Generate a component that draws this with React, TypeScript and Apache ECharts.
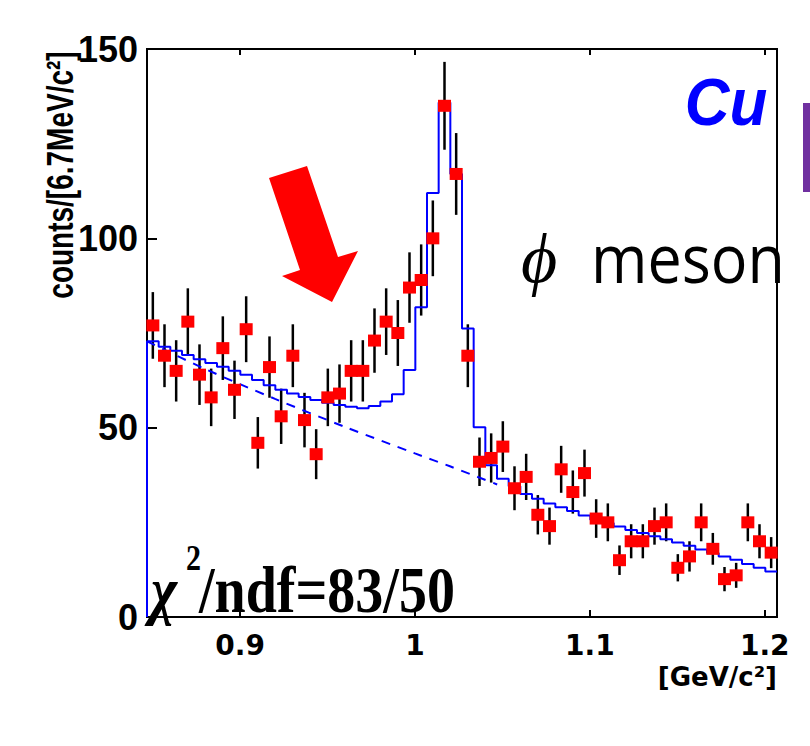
import React, { useEffect, useRef } from 'react';
import * as echarts from 'echarts';

// ---- data ----
const binLow = 0.8468; // GeV/c^2, low edge of first bin
const binWidth = 0.00667; // 6.7 MeV/c^2
const counts = [77, 69, 65, 78, 64, 58, 71, 60, 76, 46, 66, 53, 69, 52, 43, 58, 59, 65, 65, 73, 78, 75, 87, 89, 100, 135, 117, 69, 41, 42, 45, 34, 37, 27, 24, 39, 33, 38, 26, 25, 15, 20, 20, 24, 25, 13, 16, 25, 18, 10, 11, 25, 20, 17];
const countErrors = [8.8, 8.3, 8.1, 8.8, 8.0, 7.6, 8.4, 7.7, 8.7, 6.8, 8.1, 7.3, 8.3, 7.2, 6.6, 7.6, 7.7, 8.1, 8.1, 8.5, 8.8, 8.7, 9.3, 9.4, 10.0, 11.6, 10.8, 8.3, 6.4, 6.5, 6.7, 5.8, 6.1, 5.2, 4.9, 6.2, 5.7, 6.2, 5.1, 5.0, 3.9, 4.5, 4.5, 4.9, 5.0, 3.6, 4.0, 5.0, 4.2, 3.2, 3.3, 5.0, 4.5, 4.1];
const fitHistogram = [72.8, 71.4, 70.3, 69.2, 68.1, 67.1, 66.1, 65.0, 64.0, 62.6, 61.2, 60.0, 59.0, 58.1, 57.3, 56.6, 56.0, 55.5, 55.1, 55.7, 56.9, 58.8, 65.2, 81.8, 112.0, 135.9, 117.0, 76.2, 50.1, 40.1, 36.5, 34.5, 32.5, 31.2, 30.0, 29.0, 28.0, 26.8, 25.7, 24.8, 23.9, 23.0, 22.2, 21.3, 20.5, 19.7, 18.8, 17.8, 16.9, 16.0, 15.1, 14.0, 13.0, 12.0];
const backgroundX = [0.8468, 0.88, 0.92, 0.96, 1.0, 1.02, 1.047];
const backgroundY = [72.8, 65.5, 57.6, 50.2, 43.2, 39.8, 35.0];
const xTickValues = [0.9, 1.0, 1.1, 1.2];
const xTickLabels = ['0.9', '1', '1.1', '1.2'];
const yMin = 0;
const yMax = 150;
const yInterval = 50;

const nBins = counts.length;
const xMax = binLow + nBins * binWidth;
const binCenter = (i: number) => binLow + (i + 0.5) * binWidth;

const pointData = counts.map((c, i) => [binCenter(i), c]);
const errorData = counts.map((c, i) => [binCenter(i), c, countErrors[i]]);
const histData: number[][] = [[binLow, 0]];
fitHistogram.forEach((h, i) => histData.push([binLow + i * binWidth, h]));
histData.push([xMax, fitHistogram[nBins - 1]]);
const bgData = backgroundX.map((x, i) => [x, backgroundY[i]]);

const xLabelFormatter = (v: number) => {
  const idx = xTickValues.findIndex((t) => Math.abs(t - v) < 1e-6);
  return idx >= 0 ? xTickLabels[idx] : '';
};

const txt = (o: any) => ({
  type: 'text',
  silent: true,
  ...o,
  style: {
    fill: '#000',
    ...o.style,
    align: o.style.textAlign,
    verticalAlign: o.style.textVerticalAlign,
  },
});

export default function App() {
  const ref = useRef<HTMLDivElement>(null);
  useEffect(() => {
    const chart = echarts.init(ref.current!, null, { renderer: 'svg' });
    chart.setOption({
      animation: false,
      backgroundColor: '#fff',
      grid: {
        left: 147,
        top: 49,
        width: 630,
        height: 568,
        show: true,
        borderColor: '#000',
        borderWidth: 2,
        backgroundColor: 'transparent',
      },
      xAxis: [
        {
          type: 'value',
          position: 'bottom',
          min: binLow,
          max: xMax,
          axisLine: { show: false },
          splitLine: { show: false },
          axisTick: {
            inside: true,
            length: 7,
            customValues: xTickValues,
            lineStyle: { color: '#000', width: 2 },
          },
          axisLabel: {
            customValues: xTickValues,
            formatter: xLabelFormatter,
            color: '#000',
            fontFamily: '"DejaVu Sans", sans-serif',
            fontWeight: 'bold',
            fontSize: 28,
            margin: 14,
          },
        },
        {
          type: 'value',
          position: 'top',
          min: binLow,
          max: xMax,
          axisLine: { show: false },
          splitLine: { show: false },
          axisTick: {
            inside: true,
            length: 6,
            customValues: xTickValues,
            lineStyle: { color: '#000', width: 2 },
          },
          axisLabel: { show: false },
        },
      ],
      yAxis: [
        {
          type: 'value',
          min: yMin,
          max: yMax,
          interval: yInterval,
          axisLine: { show: false },
          splitLine: { show: false },
          axisTick: { inside: true, length: 10, lineStyle: { color: '#000', width: 2 } },
          axisLabel: {
            color: '#000',
            fontFamily: '"Liberation Sans", Arial, sans-serif',
            fontWeight: 'bold',
            fontSize: 36,
            margin: 9,
          },
        },
      ],
      series: [
        {
          type: 'custom',
          name: 'errors',
          z: 2,
          data: errorData,
          renderItem: (params: any, api: any) => {
            const x = api.value(0);
            const y = api.value(1);
            const e = api.value(2);
            const top = api.coord([x, y + e]);
            const bot = api.coord([x, y - e]);
            return {
              type: 'line',
              shape: { x1: top[0], y1: top[1], x2: bot[0], y2: bot[1] },
              style: { stroke: '#000', lineWidth: 2.5 },
            };
          },
        },
        {
          type: 'line',
          name: 'background',
          z: 3,
          data: bgData,
          smooth: 0.3,
          showSymbol: false,
          lineStyle: { color: '#0000ff', width: 2, type: [9, 8] },
        },
        {
          type: 'line',
          name: 'fit',
          z: 4,
          data: histData,
          step: 'end',
          showSymbol: false,
          lineStyle: { color: '#0000ff', width: 2 },
        },
        {
          type: 'scatter',
          name: 'data',
          z: 5,
          data: pointData,
          symbol: 'rect',
          symbolSize: [13, 12],
          itemStyle: { color: '#ff0000', opacity: 1 },
        },
      ],
      graphic: [
        {
          type: 'polygon',
          silent: true,
          shape: {
            points: [[269, 178], [307, 166], [338, 257], [358, 251], [332, 302], [282, 276], [300, 270]],
          },
          style: { fill: '#ff0000' },
          z: 10,
        },
        {
          type: 'rect',
          silent: true,
          shape: { x: 803, y: 103, width: 10, height: 89 },
          style: { fill: '#7030a0' },
        },
        txt({
          x: 726, y: 102, scaleY: 1.08,
          style: { text: 'Cu', font: 'italic bold 62px "Liberation Sans", Arial, sans-serif', fill: '#0000ff', textAlign: 'center', textVerticalAlign: 'middle' },
        }),
        txt({
          x: 539, y: 258,
          style: { text: 'ϕ', font: 'italic 70px "Liberation Serif", "DejaVu Serif", serif', textAlign: 'center', textVerticalAlign: 'middle' },
          z: 20,
        }),
        txt({
          x: 591, y: 257, scaleY: 1.1,
          style: { text: 'meson', font: '61px "Open Sans", sans-serif', textAlign: 'left', textVerticalAlign: 'middle' },
          z: 20,
        }),
        txt({
          x: 151, y: 590, scaleY: 1.16,
          style: { text: 'χ', font: 'italic bold 56px "Liberation Serif", serif', textAlign: 'left', textVerticalAlign: 'middle' },
          z: 20,
        }),
        txt({
          x: 186, y: 558, scaleY: 1.16,
          style: { text: '2', font: 'bold 30px "Liberation Serif", serif', textAlign: 'left', textVerticalAlign: 'middle' },
          z: 20,
        }),
        txt({
          x: 199, y: 590, scaleY: 1.16,
          style: { text: '/ndf=83/50', font: 'bold 56px "Liberation Serif", serif', textAlign: 'left', textVerticalAlign: 'middle' },
          z: 20,
        }),
        txt({
          x: 61, y: 175, rotation: Math.PI / 2, scaleY: 1.3,
          style: { text: 'counts/[6.7MeV/c²]', font: 'bold 28px "Liberation Sans", Arial, sans-serif', textAlign: 'center', textVerticalAlign: 'middle' },
        }),
        txt({
          x: 777, y: 677,
          style: { text: '[GeV/c²]', font: 'bold 26px "DejaVu Sans", sans-serif', textAlign: 'right', textVerticalAlign: 'middle' },
        }),
      ],
    });
    return () => chart.dispose();
  }, []);
  return (
    <div
      ref={ref}
      style={{ position: 'absolute', left: 0, top: 0, width: 810, height: 746, background: '#fff' }}
    />
  );
}
